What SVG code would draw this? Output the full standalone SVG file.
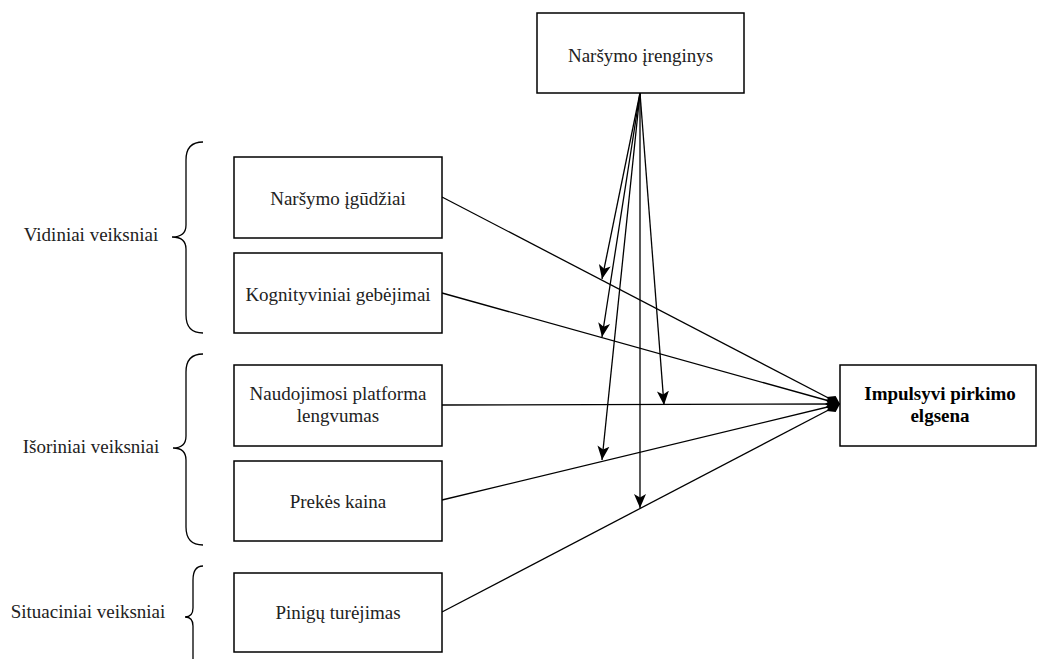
<svg xmlns="http://www.w3.org/2000/svg" width="1038" height="659" viewBox="0 0 1038 659">
  <defs>
    <style>
      .box { fill: #ffffff; stroke: #000000; stroke-width: 1.5; }
      .lbl { font-family: 'Liberation Serif', 'DejaVu Serif', 'Times New Roman', serif; font-size: 19px; fill: #222222; text-anchor: middle; }
      .bold { font-weight: bold; fill: #000000; }
      .edge { fill: none; stroke: #000000; stroke-width: 1.3; }
      .brace { fill: none; stroke: #000000; stroke-width: 1.3; }
    </style>
    <marker id="arrow" viewBox="0 -7 14 14" markerUnits="userSpaceOnUse" markerWidth="14" markerHeight="14" refX="14" refY="0" orient="auto">
      <path d="M0,-6 L14,0 L0,6 L3.5,0 z" fill="#000000"/>
    </marker>
    <marker id="diamond" viewBox="0 -6 15 12" markerUnits="userSpaceOnUse" markerWidth="15" markerHeight="12" refX="15" refY="0" orient="auto">
      <path d="M0,0 L7.5,-5 L15,0 L7.5,5 z" fill="#000000"/>
    </marker>
  </defs>

  <!-- group labels with curly braces -->
  <g id="group-vidiniai">
    <path class="brace" d="M203,142 Q186,142 186,160 L186,225 Q186,237 172,237 Q186,237 186,249 L186,315 Q186,333 203,333"/>
    <text class="lbl" x="91" y="241">Vidiniai veiksniai</text>
  </g>
  <g id="group-isoriniai">
    <path class="brace" d="M203,354 Q186,354 186,372 L186,436 Q186,448 173,448 Q186,448 186,460 L186,527 Q186,545 203,545"/>
    <text class="lbl" x="91" y="453">Išoriniai veiksniai</text>
  </g>
  <g id="group-situaciniai">
    <path class="brace" d="M203,566 Q193,566 193,580 L193,608 Q193,617 185,617 Q193,617 193,626 L193,660"/>
    <text class="lbl" x="88" y="618">Situaciniai veiksniai</text>
  </g>

  <!-- connectors -->
  <g id="connectors">
    <line class="edge" x1="442" y1="197" x2="840" y2="404" marker-end="url(#diamond)"/>
    <line class="edge" x1="442" y1="293" x2="840" y2="404" marker-end="url(#diamond)"/>
    <line class="edge" x1="442" y1="405" x2="840" y2="404" marker-end="url(#diamond)"/>
    <line class="edge" x1="442" y1="500" x2="840" y2="404" marker-end="url(#diamond)"/>
    <line class="edge" x1="442" y1="612" x2="840" y2="404" marker-end="url(#diamond)"/>

    <line class="edge" x1="640" y1="93" x2="602" y2="279" marker-end="url(#arrow)"/>
    <line class="edge" x1="640" y1="93" x2="602" y2="337" marker-end="url(#arrow)"/>
    <line class="edge" x1="640" y1="93" x2="664" y2="405" marker-end="url(#arrow)"/>
    <line class="edge" x1="640" y1="93" x2="602" y2="460" marker-end="url(#arrow)"/>
    <line class="edge" x1="640" y1="93" x2="640" y2="508" marker-end="url(#arrow)"/>
  </g>

  <!-- nodes -->
  <g id="node-irenginys">
    <rect class="box" x="537" y="13" width="207" height="80"/>
    <text class="lbl" x="640.5" y="62">Naršymo įrenginys</text>
  </g>
  <g id="node-igudziai">
    <rect class="box" x="234" y="157" width="208" height="81"/>
    <text class="lbl" x="338" y="205">Naršymo įgūdžiai</text>
  </g>
  <g id="node-gebejimai">
    <rect class="box" x="234" y="253" width="208" height="80"/>
    <text class="lbl" x="338" y="301">Kognityviniai gebėjimai</text>
  </g>
  <g id="node-platforma">
    <rect class="box" x="234" y="365" width="208" height="81"/>
    <text class="lbl" x="338" y="400">Naudojimosi platforma</text>
    <text class="lbl" x="338" y="422">lengvumas</text>
  </g>
  <g id="node-kaina">
    <rect class="box" x="234" y="461" width="208" height="80"/>
    <text class="lbl" x="338" y="508">Prekės kaina</text>
  </g>
  <g id="node-pinigai">
    <rect class="box" x="234" y="573" width="208" height="79"/>
    <text class="lbl" x="338" y="619">Pinigų turėjimas</text>
  </g>
  <g id="node-elgsena">
    <rect class="box" x="840" y="365" width="196" height="81"/>
    <text class="lbl bold" x="940" y="400">Impulsyvi pirkimo</text>
    <text class="lbl bold" x="940" y="422">elgsena</text>
  </g>
</svg>
